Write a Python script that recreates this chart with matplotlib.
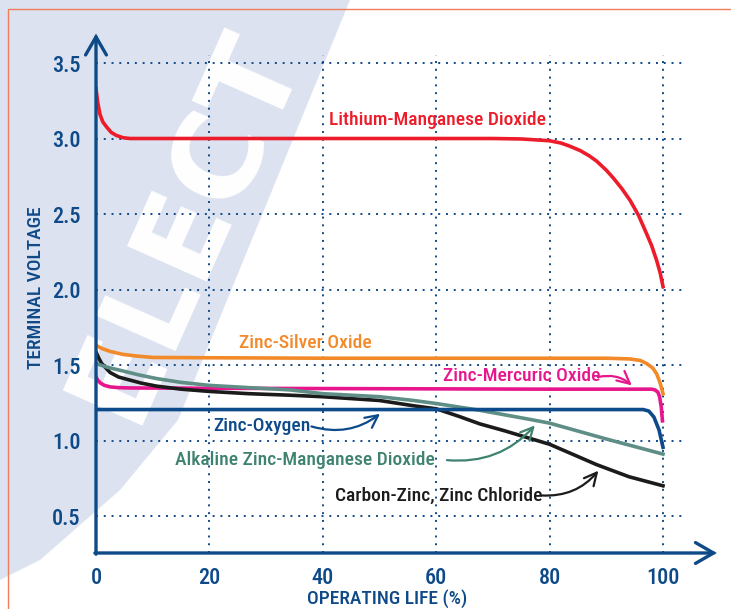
import matplotlib
matplotlib.use("Agg")
import matplotlib.pyplot as plt
from matplotlib import font_manager
from matplotlib.patches import Polygon, Rectangle

# pick a narrow font if we have one
names = {f.name for f in font_manager.fontManager.ttflist}
fam = "Roboto"
for cand in ["Liberation Sans Narrow", "Roboto Condensed", "Open Sans Condensed", "Roboto"]:
    if cand in names:
        fam = cand
        break
plt.rcParams["font.family"] = [fam, "DejaVu Sans"]
plt.rcParams["font.weight"] = "medium"

navy = "#0f4a88"
c_red = "#ec1c2a"
c_orange = "#f28a2a"
c_pink = "#e8168c"
c_zo = "#0d4a8a"
c_alk = "#5e8e86"
c_alk_txt = "#3e8270"
c_black = "#1b1b1b"

# ---- data (x = operating life %, y = volts) ----
li_x = [0, 0.3, 0.7, 1.2, 1.9, 2.7, 3.6, 4.8, 6, 20, 40, 60, 70, 75, 78, 80, 82, 83.5, 85.4, 87, 88.3, 90, 91.2, 92.7, 94.2, 95.7, 97.1, 98, 98.9, 99.5, 100]
li_y = [3.33, 3.24, 3.16, 3.11, 3.075, 3.04, 3.02, 3.005, 3.0, 3.0, 3.0, 3.0, 3.0, 2.997, 2.99, 2.985, 2.97, 2.95, 2.92, 2.885, 2.85, 2.79, 2.74, 2.67, 2.59, 2.49, 2.37, 2.29, 2.19, 2.11, 2.02]

ag_x = [0, 1, 2.5, 4.8, 7, 10, 20, 40, 60, 80, 90, 94.2, 96, 97.1, 98.2, 98.9, 99.5, 100]
ag_y = [1.63, 1.61, 1.59, 1.57, 1.56, 1.55, 1.548, 1.545, 1.545, 1.545, 1.545, 1.54, 1.53, 1.51, 1.48, 1.44, 1.38, 1.31]

hg_x = [0, 0.3, 0.8, 1.5, 2.5, 4, 6, 20, 40, 60, 80, 98, 98.6, 99.1, 99.4, 99.7, 99.9]
hg_y = [1.42, 1.40, 1.38, 1.365, 1.355, 1.35, 1.348, 1.346, 1.344, 1.342, 1.34, 1.34, 1.335, 1.32, 1.29, 1.22, 1.13]

zo_x = [0, 20, 40, 60, 80, 96.5, 97.5, 98.4, 99.3, 100]
zo_y = [1.205, 1.205, 1.205, 1.205, 1.205, 1.205, 1.195, 1.155, 1.07, 0.955]

alk_x = [0, 2, 4.8, 7.5, 10.7, 15, 20, 27, 34.2, 40, 50, 56, 60, 67.7, 76.5, 80, 90, 100]
alk_y = [1.51, 1.485, 1.46, 1.435, 1.41, 1.385, 1.365, 1.35, 1.335, 1.31, 1.29, 1.265, 1.245, 1.20, 1.14, 1.115, 1.01, 0.91]

cz_x = [0, 0.5, 1, 2.5, 4, 6, 8, 10.7, 15, 20, 27, 34.2, 40, 50, 56, 60, 64, 67.7, 72, 76, 80, 84, 88.3, 94, 100]
cz_y = [1.585, 1.545, 1.51, 1.45, 1.42, 1.40, 1.38, 1.36, 1.34, 1.325, 1.31, 1.30, 1.29, 1.265, 1.23, 1.21, 1.16, 1.11, 1.065, 1.02, 0.975, 0.91, 0.84, 0.76, 0.70]

x_ticks = [0, 20, 40, 60, 80, 100]
y_ticks = [0.5, 1.0, 1.5, 2.0, 2.5, 3.0, 3.5]
y_labels = ["0.5", "1.0", "1.5", "2.0", "2.5", "3.0", "3.5"]

W, H = 731, 609
fig = plt.figure(figsize=(W / 100, H / 100), dpi=100)

def fx(px):
    return px / W

def fy(py):
    return 1 - py / H

# watermark band with white letters behind everything
band = Polygon([(fx(0), fy(0)), (fx(350), fy(0)), (fx(178), fy(420)), (fx(120), fy(490)),
                (fx(40), fy(560)), (fx(0), fy(580))],
               closed=True, transform=fig.transFigure, facecolor="#dce2ef", edgecolor="none", zorder=0)
fig.patches.append(band)
fig.text(fx(185), fy(225), "ELECT", rotation=66, fontsize=86, fontweight="bold",
         family="DejaVu Sans", color="white", ha="center", va="center", zorder=0.5)

# orange frame
frame = Rectangle((fx(8), fy(620)), 1.2, fy(9) - fy(620), transform=fig.transFigure,
                  facecolor="none", edgecolor="#f07e5c", lw=1.0, zorder=1)
fig.patches.append(frame)

x0, x1 = 0, 110
y0, y1 = 0.255, 3.72
ax = fig.add_axes([fx(96), fy(553), fx(96 + 5.67 * 110) - fx(96), fy(553 - 151 * (y1 - y0)) - fy(553)])
ax.set_zorder(3)
ax.set_xlim(x0, x1)
ax.set_ylim(y0, y1)
ax.patch.set_visible(False)
for s in ax.spines.values():
    s.set_visible(False)

# dotted grid
dots = (0, (1, 3))
for v in y_ticks:
    ax.plot([0, 103.5], [v, v], color=navy, lw=1.4, ls=dots, zorder=1)
for v in x_ticks[1:]:
    ax.plot([v, v], [y0, 3.55], color=navy, lw=1.4, ls=dots, zorder=1)

ax.set_xticks(x_ticks)
ax.set_xticklabels([str(v) for v in x_ticks])
ax.set_yticks(y_ticks)
ax.set_yticklabels(y_labels)
ax.tick_params(length=0, labelsize=16, labelcolor=navy)
ax.tick_params(axis="x", pad=10)
ax.tick_params(axis="y", pad=11)

# curves
lw = 2.6
ax.plot(li_x, li_y, color=c_red, lw=lw, solid_joinstyle="round", zorder=3)
ax.plot(ag_x, ag_y, color=c_orange, lw=lw, solid_joinstyle="round", zorder=3)
ax.plot(hg_x, hg_y, color=c_pink, lw=lw, solid_joinstyle="round", zorder=3)
ax.plot(cz_x, cz_y, color=c_black, lw=lw, solid_joinstyle="round", zorder=3)
ax.plot(alk_x, alk_y, color=c_alk, lw=lw, solid_joinstyle="round", zorder=3)
ax.plot(zo_x, zo_y, color=c_zo, lw=lw, solid_joinstyle="round", zorder=4)

# axes with arrow heads
arr = dict(arrowstyle="->,head_length=1.3,head_width=0.75", lw=2.4, color=navy, mutation_scale=10,
           shrinkA=0, shrinkB=0, joinstyle="miter")
ax.annotate("", xy=(109.5, y0), xytext=(-0.2, y0), arrowprops=arr, annotation_clip=False, zorder=5)
ax.annotate("", xy=(0, 3.695), xytext=(0, y0 - 0.008), arrowprops=arr, annotation_clip=False, zorder=5)

# labels on curves
fs = 14
ax.text(60.3, 3.12, "Lithium-Manganese Dioxide", color=c_red, fontsize=fs, ha="center", va="center")
ax.text(36.9, 1.644, "Zinc-Silver Oxide", color=c_orange, fontsize=fs, ha="center", va="center")
ax.text(75.1, 1.425, "Zinc-Mercuric Oxide", color=c_pink, fontsize=fs, ha="center", va="center")
ax.text(29.2, 1.093, "Zinc-Oxygen", color=c_zo, fontsize=fs, ha="center", va="center")
ax.text(36.9, 0.872, "Alkaline Zinc-Manganese Dioxide", color=c_alk_txt, fontsize=fs, ha="center", va="center")
ax.text(60.4, 0.636, "Carbon-Zinc, Zinc Chloride", color=c_black, fontsize=fs, ha="center", va="center")

def pointer(x_a, y_a, x_b, y_b, col, rad):
    ax.annotate("", xy=(x_b, y_b), xytext=(x_a, y_a),
                arrowprops=dict(arrowstyle="->,head_length=0.9,head_width=0.45", lw=1.6, color=col,
                                connectionstyle="arc3,rad=%s" % rad, shrinkA=0, shrinkB=0), zorder=5)

pointer(88.5, 1.42, 94.5, 1.365, c_pink, -0.25)
pointer(38.0, 1.093, 50.1, 1.177, c_zo, 0.25)
pointer(61.9, 0.87, 77.4, 1.10, c_alk_txt, 0.25)
pointer(78.6, 0.636, 88.6, 0.80, c_black, 0.25)

fig.text(fx(36), fy(288), "TERMINAL VOLTAGE", rotation=90, fontsize=14, color=navy, ha="center", va="center")
fig.text(fx(387), fy(599), "OPERATING LIFE (%)", fontsize=14, color=navy, ha="center", va="center")

fig.savefig("out.png", dpi=100)
